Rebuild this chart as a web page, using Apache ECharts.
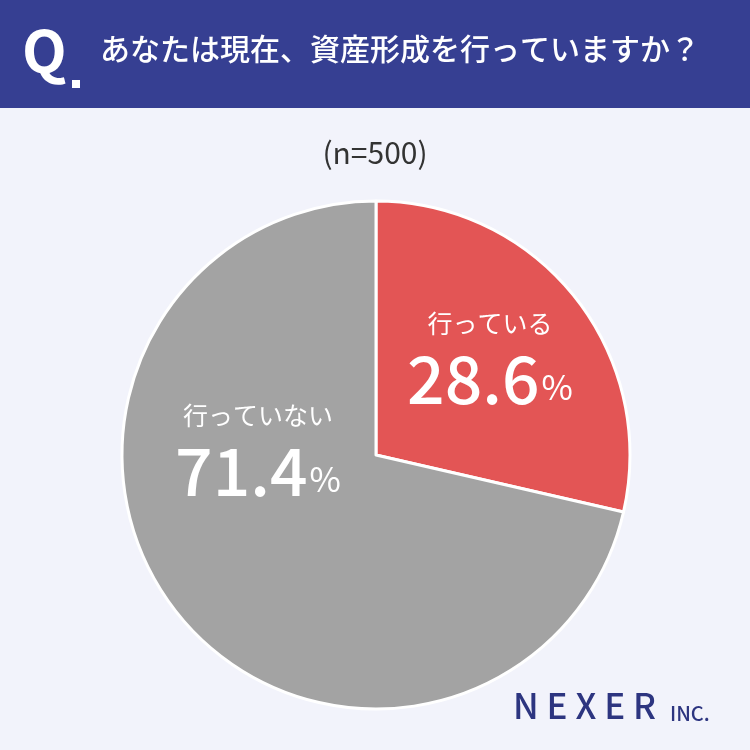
<!DOCTYPE html>
<html><head><meta charset="utf-8">
<script src="https://cdn.jsdelivr.net/npm/echarts@6/dist/echarts.min.js"></script>
<style>html,body{margin:0;padding:0;background:#f2f3fb}#c{width:750px;height:750px}</style>
</head><body><div id="c"></div>
<script>
const title = 'あなたは現在、資産形成を行っていますか？';
const sampleNote = '(n=500)';
const categories = ['行っている', '行っていない'];
const values = [28.6, 71.4];
const colors = ['#e35555', '#a3a3a3'];

const chart = echarts.init(document.getElementById('c'));
const font = '"Noto Sans CJK JP", sans-serif';
chart.setOption({
  backgroundColor: '#f2f3fb',
  graphic: [
    {type: 'rect', shape: {x: 0, y: 0, width: 750, height: 108}, style: {fill: '#363f92'}},
    {type: 'text', left: 22, top: 22, style: {text: 'Q', fill: '#fff', font: 'bold 58px ' + font}},
    {type: 'rect', shape: {x: 72, y: 80, width: 8, height: 8}, style: {fill: '#fff'}},
    {type: 'text', left: 100, top: 34, style: {text: title, fill: '#fff', font: '500 30px ' + font}},
    {type: 'text', left: 'center', top: 138, style: {text: sampleNote, fill: '#333', font: '30px ' + font}},
    {type: 'text', left: 513, top: 688, style: {text: 'N E X E R', fill: '#2d3580', font: '500 35px ' + font}},
    {type: 'text', left: 670, top: 703, style: {text: 'INC.', fill: '#2d3580', font: '500 20px ' + font}}
  ],
  series: [{
    type: 'pie',
    center: [376, 455],
    radius: [0, 254],
    startAngle: 90,
    clockwise: true,
    animation: false,
    itemStyle: {borderColor: '#fff', borderWidth: 3},
    label: {
      position: 'inside',
      formatter: p => '{n|' + p.name + '}\n{v|' + p.value + '}{p|%}',
      rich: {
        n: {fontSize: 25, color: '#fff', fontFamily: font, lineHeight: 42},
        v: {fontSize: 66, color: '#fff', fontFamily: font, fontWeight: 500, lineHeight: 70},
        p: {fontSize: 34, color: '#fff', fontFamily: font, padding: [16, 0, 0, 2]}
      }
    },
    labelLayout: p => p.dataIndex === 0 ? {x: 490, y: 358} : {x: 258, y: 450},
    data: categories.map((n, i) => ({name: n, value: values[i], itemStyle: {color: colors[i]}}))
  }]
});
</script></body></html>
